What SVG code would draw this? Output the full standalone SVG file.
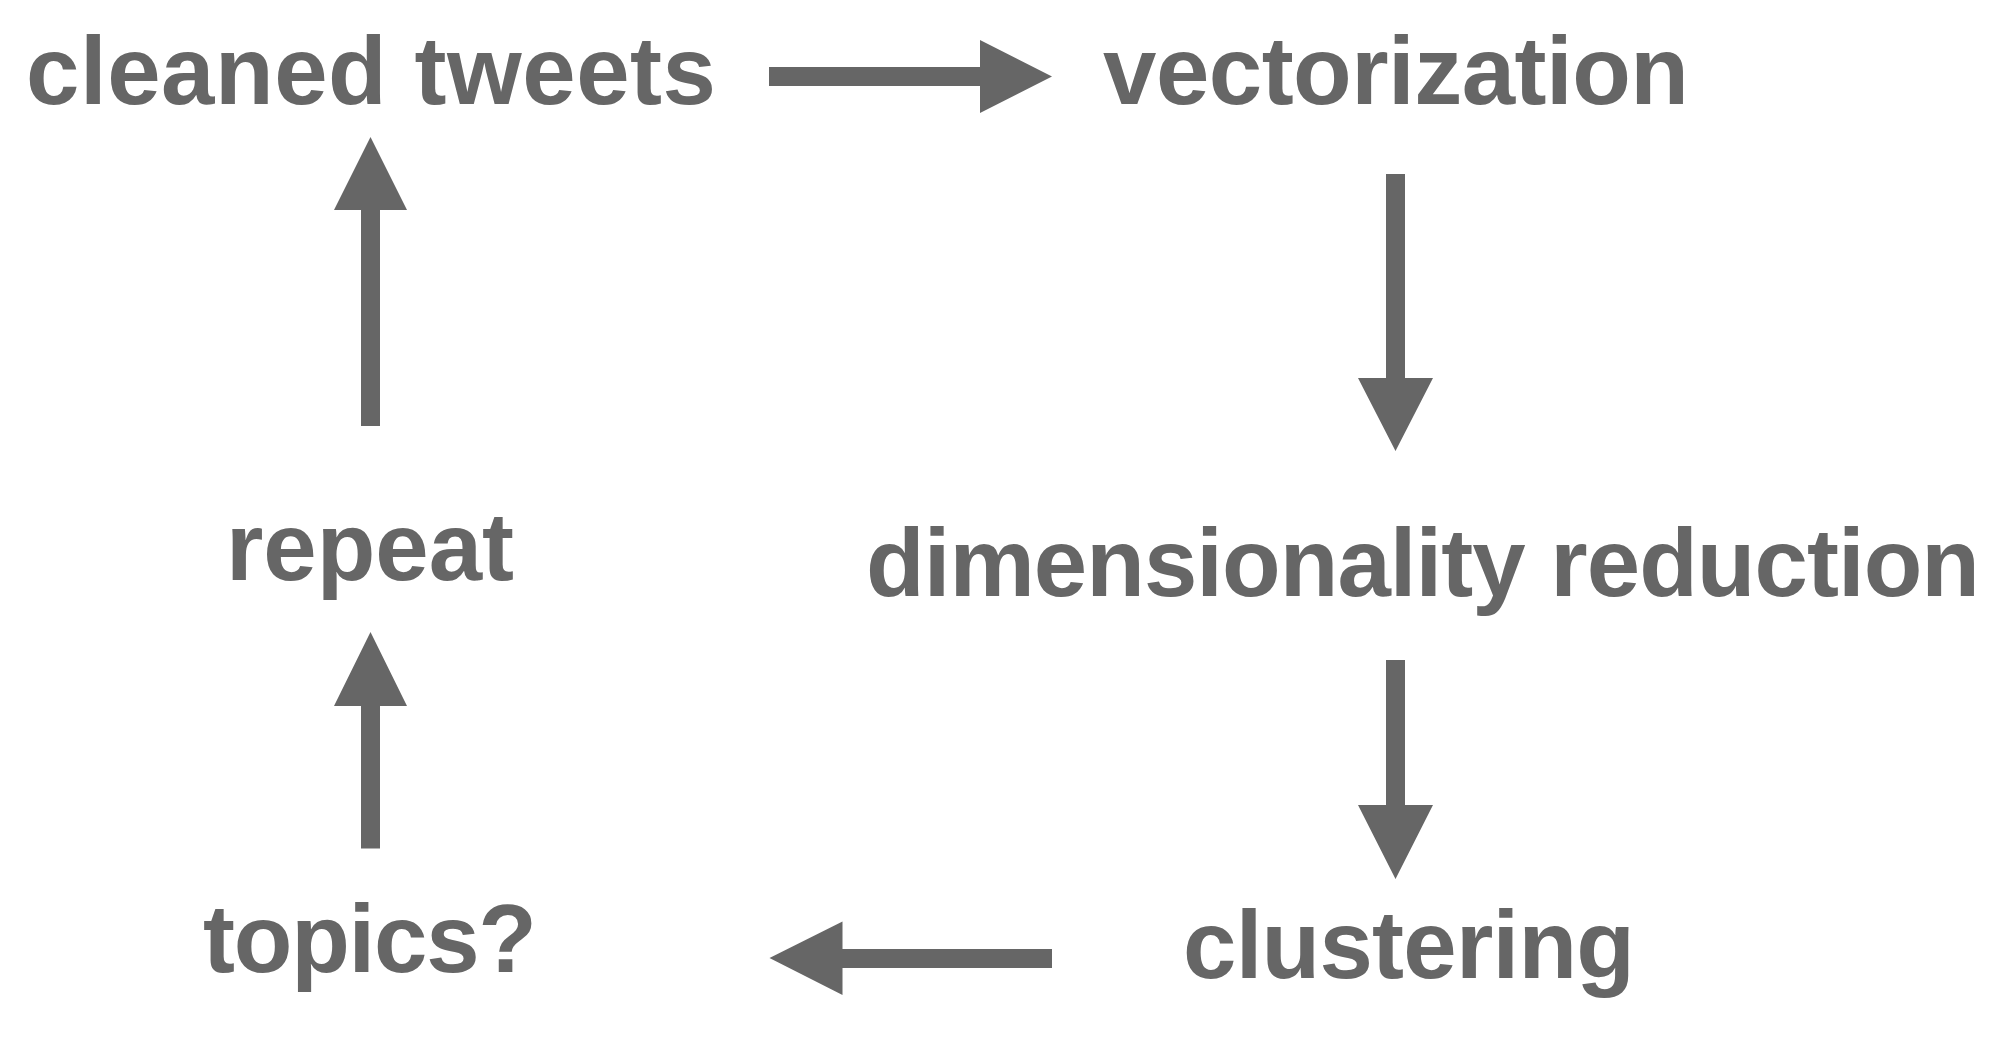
<svg xmlns="http://www.w3.org/2000/svg" width="1998" height="1050" viewBox="0 0 1998 1050">
<style>
.lbl{font-family:"Liberation Sans",Arial,Helvetica,sans-serif;font-weight:bold;font-size:96px;fill:#666666;text-anchor:middle}
.arr{fill:#666666}
</style>
<rect width="1998" height="1050" fill="#ffffff"/>
<g id="node-cleaned-tweets"><text class="lbl" x="371" y="104" textLength="690" lengthAdjust="spacing">cleaned tweets</text></g>
<g id="node-vectorization"><text class="lbl" x="1396" y="104" textLength="586" lengthAdjust="spacing">vectorization</text></g>
<g id="node-dimensionality-reduction"><text class="lbl" x="1423" y="596" textLength="1114" lengthAdjust="spacing">dimensionality reduction</text></g>
<g id="node-clustering"><text class="lbl" x="1409" y="978" textLength="452" lengthAdjust="spacing">clustering</text></g>
<g id="node-topics"><text class="lbl" x="370" y="972" textLength="334" lengthAdjust="spacing">topics?</text></g>
<g id="node-repeat"><text class="lbl" x="370" y="580">repeat</text></g>
<g id="connectors" class="arr">
<path d="M769,67 H980 V40 L1052,76.5 L980,113 V86 H769 Z"/>
<path d="M1386,174 V378 H1358 L1395.5,451 L1433,378 H1405 V174 Z"/>
<path d="M1386,660 V805 H1358 L1395.5,879 L1433,805 H1405 V660 Z"/>
<path d="M1052,949 H842.5 V921.5 L769.5,958 L842.5,995 V968 H1052 Z"/>
<path d="M361,848.5 V706 H334 L370.5,632 L407,706 H380 V848.5 Z"/>
<path d="M361,426 V210 H334 L370.5,137 L407,210 H380 V426 Z"/>
</g>
</svg>
